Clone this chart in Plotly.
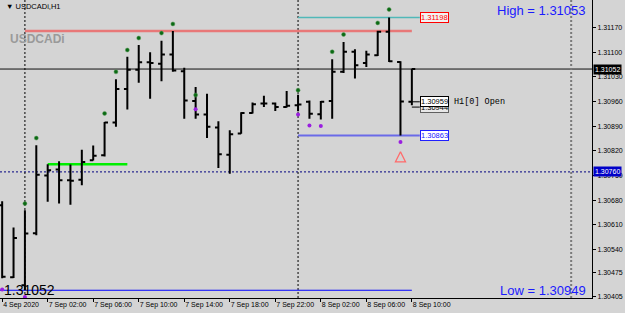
import plotly.graph_objects as go

# ---------------- data ----------------
bars = list(range(-4, 33))  # bar index, 0 = 7 Sep 02:00 (H1)
opens = [1.30665, 1.30461, 1.30438, 1.30586, 1.30750, 1.30767, 1.30736, 1.30738, 1.30793, 1.30807,
         1.30900, 1.30995, 1.31050, 1.31071, 1.31067, 1.31093, 1.31046, 1.30961, 1.30923, 1.30886,
         1.30809, 1.30869, 1.30927, 1.30954, 1.30954, 1.30944, 1.30949, 1.30959, 1.30924, 1.30961,
         1.31044, 1.31101, 1.31069, 1.31091, 1.31158, 1.31072, 1.30959]
highs = [1.30677, 1.30602, 1.30651, 1.30836, 1.30782, 1.30790, 1.30781, 1.30823, 1.30835, 1.30902,
         1.31023, 1.31087, 1.31120, 1.31100, 1.31132, 1.31160, 1.31056, 1.31001, 1.30982, 1.30904,
         1.30878, 1.30929, 1.30957, 1.30976, 1.30957, 1.30990, 1.30979, 1.30963, 1.30961, 1.31080,
         1.31129, 1.31108, 1.31104, 1.31161, 1.31198, 1.31074, 1.31053]
lows = [1.30458, 1.30459, 1.30424, 1.30580, 1.30675, 1.30670, 1.30667, 1.30722, 1.30792, 1.30804,
        1.30888, 1.30937, 1.31013, 1.30968, 1.31017, 1.31044, 1.30911, 1.30911, 1.30856, 1.30771,
        1.30755, 1.30868, 1.30926, 1.30944, 1.30933, 1.30943, 1.30932, 1.30911, 1.30909, 1.30911,
        1.31041, 1.31025, 1.31058, 1.31089, 1.31072, 1.30863, 1.30949]
closes = [1.30462, 1.30572, 1.30585, 1.30752, 1.30765, 1.30736, 1.30735, 1.30788, 1.30806, 1.30900,
          1.30995, 1.31050, 1.31071, 1.31069, 1.31093, 1.31048, 1.30963, 1.30923, 1.30888, 1.30810,
          1.30867, 1.30927, 1.30952, 1.30954, 1.30944, 1.30948, 1.30951, 1.30925, 1.30959, 1.31044,
          1.31101, 1.31063, 1.31093, 1.31158, 1.31074, 1.30960, 1.31052]

up_fractal_bars = [-2, -1, 5, 6, 7, 8, 10, 11, 13, 22, 25, 26, 29, 30]
up_fractal_prices = [1.30670, 1.30856, 1.30926, 1.31044, 1.31106, 1.31140, 1.31154, 1.31180,
                     1.30978, 1.30992, 1.31101, 1.31150, 1.31183, 1.31221]
down_fractal_bars = [-4, -2, 13, 22, 23, 24, 31]
down_fractal_prices = [1.30426, 1.30405, 1.30938, 1.30923, 1.30892, 1.30890, 1.30845]
arrow_bar = [31]
arrow_price = [1.30817]

time_tick_bars = [-4, 0, 4, 8, 12, 16, 20, 24, 28, 32]
time_tick_labels = ["4 Sep 2020", "7 Sep 02:00", "7 Sep 06:00", "7 Sep 10:00", "7 Sep 14:00",
                    "7 Sep 18:00", "7 Sep 22:00", "8 Sep 02:00", "8 Sep 06:00", "8 Sep 10:00"]
price_ticks = [1.31170, 1.31100, 1.31030, 1.30960, 1.30890, 1.30820, 1.30750, 1.30680,
               1.30610, 1.30540, 1.30475, 1.30405]

bid_price = 1.31052
hline_navy = 1.30760
resistance = 1.31160      # salmon line
green_level = 1.30782
high_level = 1.31198
low_level = 1.30863
blue_low = 1.30424
day_separators = [-2, 22]
future_separator = 46
open_label = 1.30959
prev_label = 1.30944
cur_high = 1.31053
cur_low = 1.30949

BG = "#d4d4d4"
FONT = "Liberation Sans, Arial, sans-serif"

fig = go.Figure()

fig.add_trace(go.Ohlc(
    x=bars, open=opens, high=highs, low=lows, close=closes,
    increasing=dict(line=dict(color="black", width=2)),
    decreasing=dict(line=dict(color="black", width=2)),
    tickwidth=0.3, showlegend=False, hoverinfo="skip"))

fig.add_trace(go.Scatter(
    x=up_fractal_bars, y=up_fractal_prices, mode="markers",
    marker=dict(color="#0b6a14", size=4, line=dict(color="#5a9a5a", width=0.5)),
    showlegend=False, hoverinfo="skip"))
fig.add_trace(go.Scatter(
    x=down_fractal_bars, y=down_fractal_prices, mode="markers",
    marker=dict(color="#9a1ee0", size=4, line=dict(width=0)),
    showlegend=False, hoverinfo="skip"))
fig.add_trace(go.Scatter(
    x=arrow_bar, y=arrow_price, mode="markers",
    marker=dict(symbol="arrow-up-open", color="#ff6a6a", size=10, line=dict(color="#ff6a6a", width=1.3)),
    showlegend=False, hoverinfo="skip"))

shapes = []
shapes.append(dict(type="line", xref="paper", x0=0, x1=1, yref="y", y0=bid_price, y1=bid_price,
                   line=dict(color="#101010", width=1), layer="below"))
shapes.append(dict(type="line", xref="paper", x0=0, x1=1, yref="y", y0=hline_navy, y1=hline_navy,
                   line=dict(color="#000080", width=1, dash="2px,2px"), layer="below"))
shapes.append(dict(type="line", x0=-2, x1=32, y0=resistance, y1=resistance,
                   line=dict(color="#e87878", width=2.5), layer="below"))
shapes.append(dict(type="line", x0=0, x1=7, y0=green_level, y1=green_level,
                   line=dict(color="#00ee00", width=2.5), layer="below"))
shapes.append(dict(type="line", x0=-4.2, x1=32, y0=blue_low, y1=blue_low,
                   line=dict(color="#0000ff", width=1), layer="below"))
shapes.append(dict(type="line", x0=22, x1=32.7, y0=high_level, y1=high_level,
                   line=dict(color="#50b8b8", width=1.5), layer="below"))
shapes.append(dict(type="line", x0=22, x1=32.7, y0=low_level, y1=low_level,
                   line=dict(color="#6a6ae8", width=2), layer="below"))
shapes.append(dict(type="line", x0=32, x1=32.7, y0=open_label, y1=open_label,
                   line=dict(color="black", width=1), layer="below"))
shapes.append(dict(type="line", x0=32, x1=32.7, y0=prev_label, y1=prev_label,
                   line=dict(color="black", width=1), layer="below"))
for d in day_separators:
    shapes.append(dict(type="line", x0=d, x1=d, yref="paper", y0=0, y1=1,
                       line=dict(color="black", width=1, dash="2px,2px"), layer="below"))
shapes.append(dict(type="line", x0=future_separator, x1=future_separator, yref="paper", y0=0, y1=1,
                   line=dict(color="#7a7a7a", width=2, dash="2px,2px"), layer="below"))

ann = []
def box(y, text, fc, bc, bg):
    ann.append(dict(x=32.7, y=y, xref="x", yref="y", text=text, showarrow=False,
                    xanchor="left", yanchor="middle", font=dict(family=FONT, size=7.5, color=fc),
                    bgcolor=bg, bordercolor=bc, borderwidth=1, borderpad=0))

box(high_level, f"{high_level:.5f}", "#ff0000", "#ff0000", "#f2f2f2")
box(prev_label, f"{prev_label:.5f}", "black", "#606060", "#e8e8e8")
box(open_label, f"{open_label:.5f}", "black", "black", "#ffffff")
box(low_level, f"{low_level:.5f}", "#2020ff", "#2020ff", "#ffffff")
ann.append(dict(x=35.5, y=open_label, xref="x", yref="y", text="H1[0] Open", showarrow=False,
                xanchor="left", yanchor="middle",
                font=dict(family="Liberation Mono, Courier New, monospace", size=8.5, color="black")))

ann.append(dict(x=1.0, y=bid_price, xref="paper", yref="y", text=f"{bid_price:.5f}", showarrow=False,
                xanchor="left", yanchor="middle", xshift=1,
                font=dict(family=FONT, size=7, color="white"), bgcolor="black", borderpad=1))
ann.append(dict(x=1.0, y=hline_navy, xref="paper", yref="y", text=f"{hline_navy:.5f}", showarrow=False,
                xanchor="left", yanchor="middle", xshift=1,
                font=dict(family=FONT, size=7, color="white"), bgcolor="#0000c8", borderpad=1))

ann.append(dict(x=0.993, y=0.966, xref="paper", yref="paper", text=f"High = {cur_high:.5f}",
                showarrow=False, xanchor="right", yanchor="middle",
                font=dict(family=FONT, size=13, color="#1a1aff")))
ann.append(dict(x=0.993, y=0.025, xref="paper", yref="paper", text=f"Low = {cur_low:.5f}",
                showarrow=False, xanchor="right", yanchor="middle",
                font=dict(family=FONT, size=13, color="#1a1aff")))
ann.append(dict(x=0.004, y=0.027, xref="paper", yref="paper", text=f"{bid_price:.5f}",
                showarrow=False, xanchor="left", yanchor="middle",
                font=dict(family=FONT, size=14, color="black")))
ann.append(dict(x=0.014, y=0.868, xref="paper", yref="paper", text="<b>USDCADi</b>",
                showarrow=False, xanchor="left", yanchor="middle",
                font=dict(family=FONT, size=12, color="#9a9a9a")))
ann.append(dict(x=0.006, y=0.977, xref="paper", yref="paper", text="▼ USDCADi,H1",
                showarrow=False, xanchor="left", yanchor="middle",
                font=dict(family=FONT, size=7.5, color="black")))

fig.update_layout(
    width=625, height=313,
    margin=dict(l=0, r=33, t=0, b=15, autoexpand=False),
    paper_bgcolor=BG, plot_bgcolor=BG,
    shapes=shapes, annotations=ann,
    showlegend=False,
    xaxis=dict(range=[-4.19, 47.83], showgrid=False, zeroline=False, rangeslider=dict(visible=False),
               tickmode="array", tickvals=time_tick_bars, ticktext=time_tick_labels,
               ticks="outside", ticklen=3, tickcolor="black", ticklabelposition="outside right",
               tickangle=0, automargin=False,
               tickfont=dict(family=FONT, size=7, color="black"),
               showline=True, linecolor="black", linewidth=1, mirror=True),
    yaxis=dict(range=[1.30402, 1.31248], side="right", showgrid=False, zeroline=False,
               tickmode="array", tickvals=price_ticks, ticktext=[f"{p:.5f}" for p in price_ticks],
               ticks="outside", ticklen=3, tickcolor="black", automargin=False,
               tickfont=dict(family=FONT, size=7, color="black"),
               showline=True, linecolor="black", linewidth=1, mirror=True),
)

fig.write_html("out.html", config={"displayModeBar": False})
